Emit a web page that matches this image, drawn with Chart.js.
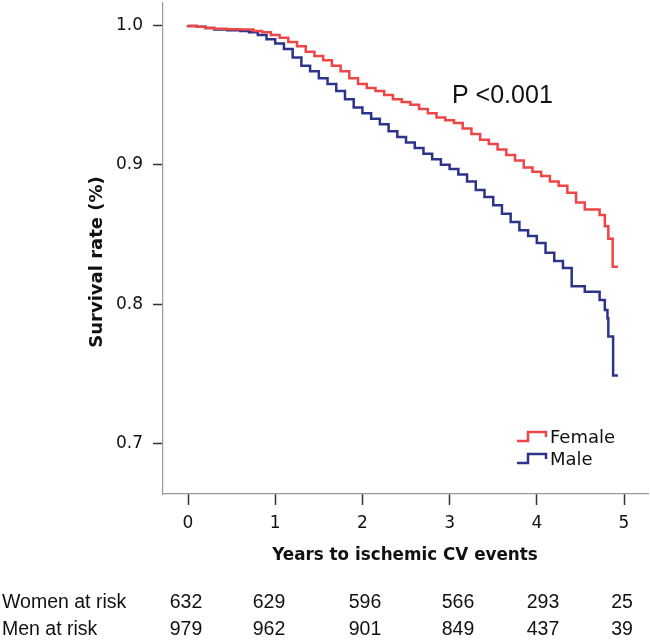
<!DOCTYPE html>
<html>
<head>
<meta charset="utf-8">
<script src="https://cdn.jsdelivr.net/npm/chart.js@4.4.1/dist/chart.umd.min.js"></script>
<style>
  html, body { margin: 0; padding: 0; background: #ffffff; }
  #wrap { width: 650px; height: 643px; }
</style>
</head>
<body>
<div id="wrap"><canvas id="c" width="650" height="643"></canvas></div>
<script>
// ---- Data ----
const femaleTime = [0, 0.1, 0.2, 0.3, 0.45, 0.6, 0.75, 0.85, 0.95, 1.05, 1.15, 1.25, 1.35, 1.45, 1.55, 1.65, 1.75, 1.85, 1.95, 2.05, 2.15, 2.25, 2.35, 2.45, 2.55, 2.65, 2.75, 2.85, 2.95, 3.05, 3.15, 3.25, 3.35, 3.45, 3.55, 3.65, 3.75, 3.85, 3.95, 4.05, 4.15, 4.25, 4.35, 4.45, 4.55, 4.72, 4.78, 4.82, 4.87, 4.93];
const femaleSurv = [1.000, 0.9995, 0.999, 0.998, 0.9975, 0.9972, 0.997, 0.996, 0.995, 0.993, 0.991, 0.988, 0.985, 0.981, 0.978, 0.975, 0.971, 0.967, 0.962, 0.958, 0.955, 0.953, 0.950, 0.947, 0.945, 0.943, 0.940, 0.937, 0.934, 0.932, 0.930, 0.926, 0.922, 0.918, 0.915, 0.911, 0.907, 0.903, 0.898, 0.895, 0.892, 0.888, 0.885, 0.880, 0.873, 0.868, 0.864, 0.856, 0.847, 0.827];

const maleTime = [0, 0.1, 0.2, 0.3, 0.45, 0.6, 0.7, 0.8, 0.9, 1.0, 1.1, 1.2, 1.3, 1.4, 1.5, 1.6, 1.7, 1.8, 1.9, 2.0, 2.1, 2.2, 2.3, 2.4, 2.5, 2.6, 2.7, 2.8, 2.9, 3.0, 3.1, 3.2, 3.3, 3.4, 3.5, 3.6, 3.7, 3.8, 3.9, 4.0, 4.1, 4.2, 4.3, 4.4, 4.55, 4.72, 4.78, 4.81, 4.82, 4.875, 4.93];
const maleSurv = [1.000, 0.9995, 0.999, 0.998, 0.997, 0.9965, 0.996, 0.995, 0.993, 0.990, 0.987, 0.983, 0.977, 0.971, 0.967, 0.962, 0.958, 0.953, 0.947, 0.941, 0.937, 0.933, 0.929, 0.924, 0.920, 0.916, 0.912, 0.908, 0.904, 0.900, 0.897, 0.893, 0.888, 0.882, 0.877, 0.871, 0.865, 0.859, 0.853, 0.849, 0.844, 0.837, 0.831, 0.826, 0.813, 0.809, 0.803, 0.796, 0.790, 0.777, 0.749];

const seriesLabels = ['Female', 'Male'];
const xTickValues = [0, 1, 2, 3, 4, 5];
const yTickValues = [0.7, 0.8, 0.9, 1.0];

const riskRowLabels = ['Women at risk', 'Men at risk'];
const womenAtRisk = [632, 629, 596, 566, 293, 25];
const menAtRisk = [979, 962, 901, 849, 437, 39];

const pValueText = 'P <0.001';
const xTitle = 'Years to ischemic CV events';
const yTitle = 'Survival rate (%)';

// ---- Styling / layout ----
const colors = ['#ee4646', '#2c3489'];
const tickFont = 'DejaVu Sans';
const riskColX = [186, 269, 365, 458, 543, 622];
const riskRowY = [608, 635];

const toXY = (t, s) => t.map((v, i) => ({ x: v, y: s[i] }));

const extras = {
  id: 'extras',
  afterDraw(chart) {
    const ctx = chart.ctx;
    ctx.save();
    // P value
    ctx.fillStyle = '#111';
    ctx.font = '25px "Liberation Sans", Arial, sans-serif';
    ctx.textAlign = 'left';
    ctx.textBaseline = 'alphabetic';
    ctx.fillText(pValueText, 452, 103);

    // Legend with step icons
    const legendRows = [441, 463];
    chart.data.datasets.forEach((ds, i) => {
      const y = legendRows[i];
      ctx.strokeStyle = ds.borderColor;
      ctx.lineWidth = 2.5;
      ctx.beginPath();
      ctx.moveTo(517, y);
      ctx.lineTo(528, y);
      ctx.lineTo(528, y - 9);
      ctx.lineTo(546, y - 9);
      ctx.lineTo(546, y - 4);
      ctx.stroke();
      ctx.fillStyle = '#111';
      ctx.font = '18px "DejaVu Sans", sans-serif';
      ctx.textAlign = 'left';
      ctx.textBaseline = 'alphabetic';
      ctx.fillText(ds.label, 550, y + 2);
    });

    // Axis titles
    ctx.fillStyle = '#111';
    ctx.font = 'bold 16.8px "DejaVu Sans", sans-serif';
    ctx.textAlign = 'center';
    ctx.textBaseline = 'middle';
    ctx.fillText(xTitle, 405, 556);
    ctx.save();
    ctx.translate(97, 262);
    ctx.rotate(-Math.PI / 2);
    ctx.font = 'bold 18px "DejaVu Sans", sans-serif';
    ctx.fillText(yTitle, 0, 0);
    ctx.restore();

    // Risk table
    ctx.font = '19.5px "Liberation Sans", Arial, sans-serif';
    ctx.textBaseline = 'alphabetic';
    const rows = [womenAtRisk, menAtRisk];
    rows.forEach((vals, r) => {
      ctx.textAlign = 'left';
      ctx.fillText(riskRowLabels[r], 2, riskRowY[r]);
      ctx.textAlign = 'center';
      vals.forEach((v, c) => ctx.fillText(String(v), riskColX[c], riskRowY[r]));
    });
    ctx.restore();
  }
};

new Chart(document.getElementById('c'), {
  type: 'line',
  data: {
    datasets: [
      { label: seriesLabels[0], data: toXY(femaleTime, femaleSurv), borderColor: colors[0], backgroundColor: colors[0] },
      { label: seriesLabels[1], data: toXY(maleTime, maleSurv), borderColor: colors[1], backgroundColor: colors[1] }
    ]
  },
  options: {
    responsive: false,
    animation: false,
    devicePixelRatio: 1,
    layout: { padding: { left: 0, right: 2, top: 3, bottom: 0 } },
    elements: {
      point: { radius: 0 },
      line: { borderWidth: 2.5, stepped: 'after', tension: 0 }
    },
    plugins: { legend: { display: false }, tooltip: { enabled: false }, title: { display: false } },
    scales: {
      x: {
        type: 'linear',
        min: -0.287,
        max: 5.275,
        afterBuildTicks: (s) => { s.ticks = xTickValues.map(v => ({ value: v })); },
        afterFit: (s) => { s.height = 149; s.paddingLeft = 0; s.paddingRight = 0; },
        border: { color: '#9a9a9a', width: 1.2 },
        grid: { drawOnChartArea: false, color: '#333', tickLength: 11, tickWidth: 1.5 },
        ticks: { color: '#111', font: { family: tickFont, size: 17 }, padding: 8, maxRotation: 0, autoSkip: false,
                 callback: (v) => String(v) }
      },
      y: {
        min: 0.664,
        max: 1.016,
        afterBuildTicks: (s) => { s.ticks = yTickValues.map(v => ({ value: v })); },
        afterFit: (s) => { s.width = 163; s.paddingTop = 0; s.paddingBottom = 0; },
        border: { color: '#9a9a9a', width: 1.2 },
        grid: { drawOnChartArea: false, color: '#333', tickLength: 10, tickWidth: 1.5 },
        ticks: { color: '#111', font: { family: tickFont, size: 17 }, padding: 10, autoSkip: false,
                 callback: (v) => Number(v).toFixed(1) }
      }
    }
  },
  plugins: [extras]
});
</script>
</body>
</html>
